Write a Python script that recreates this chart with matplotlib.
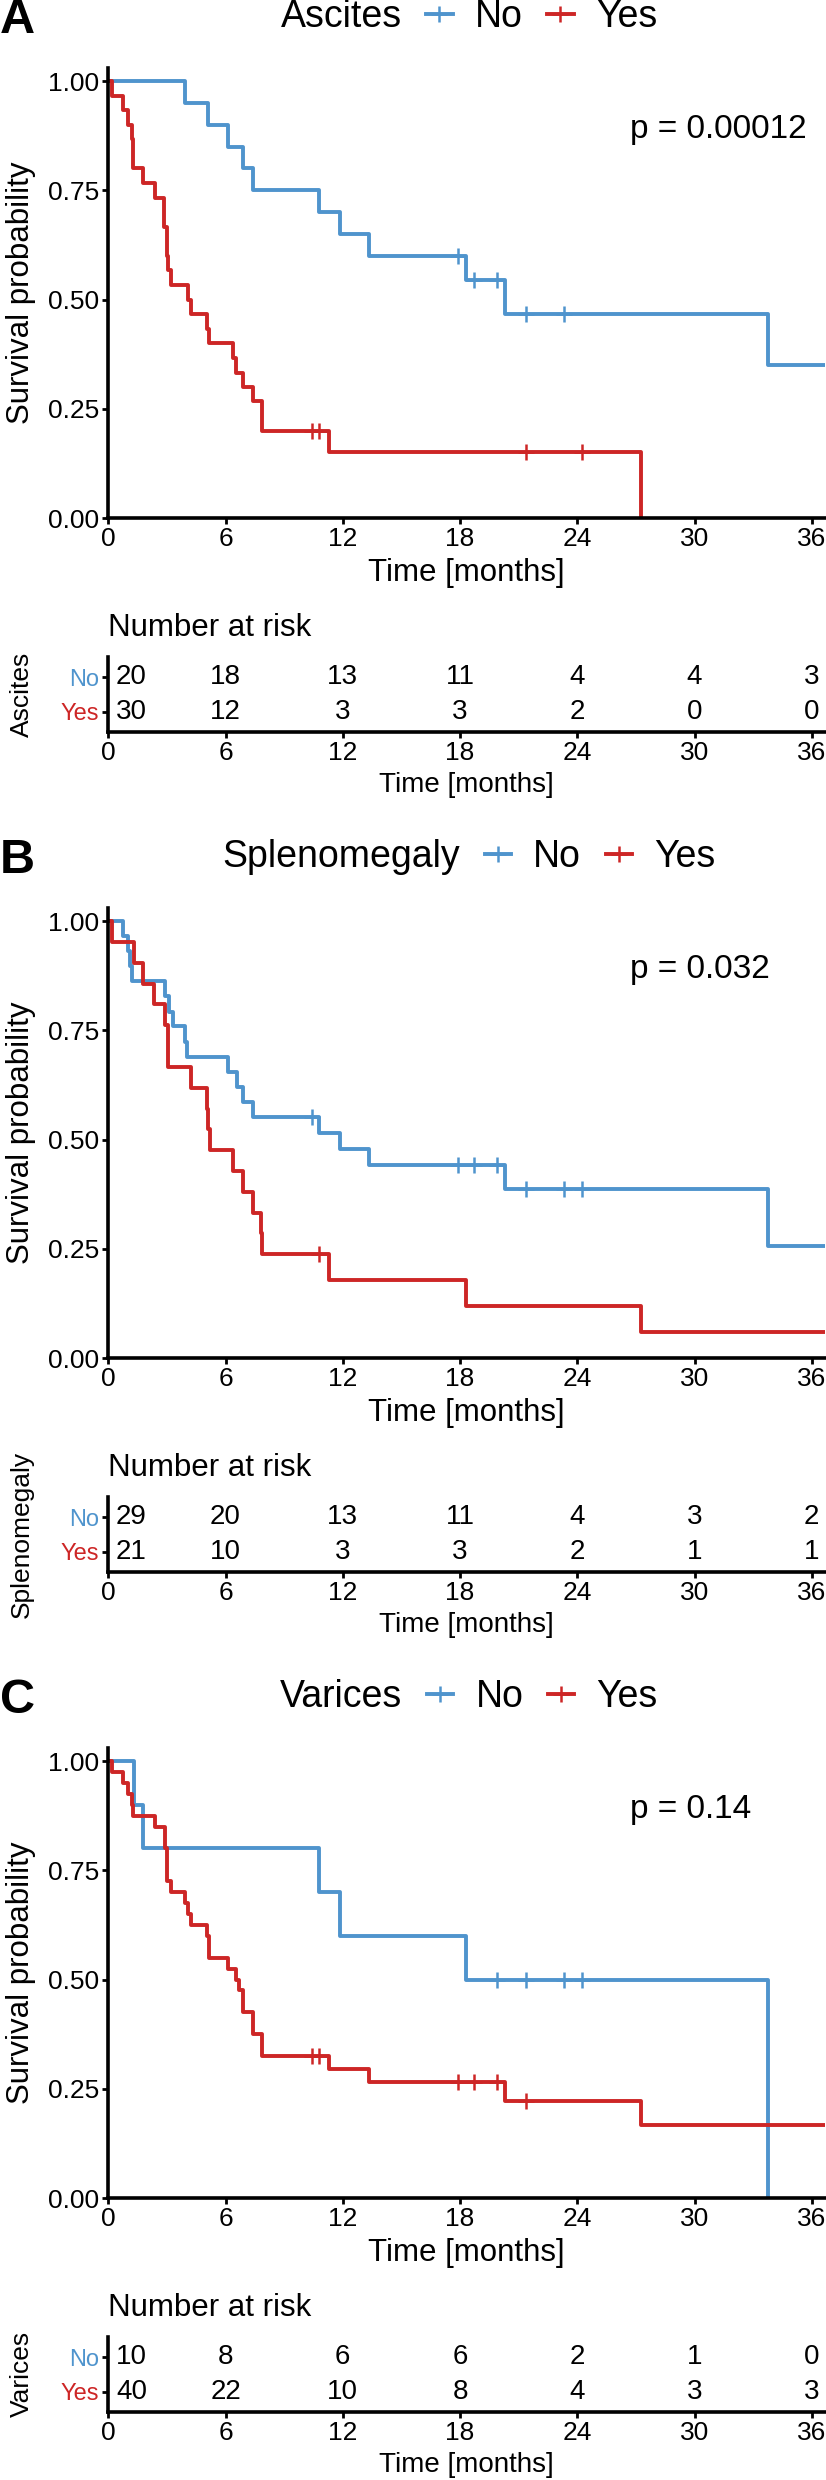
import matplotlib
matplotlib.use("Agg")
import matplotlib.pyplot as plt
from matplotlib.lines import Line2D
import numpy as np

plt.rcParams["font.family"] = ["Liberation Sans", "DejaVu Sans"]

blue = "#4F94CD"
red = "#CD2626"

x_breaks = [0, 6, 12, 18, 24, 30, 36]

# ---- A: Ascites ----
a_no_t = [0, 3.92, 5.12, 6.14, 6.91, 7.42, 10.78, 11.86, 13.36, 18.3, 20.3, 33.75]
a_no_s = [1.0, 0.95, 0.90, 0.85, 0.80, 0.75, 0.70, 0.65, 0.60, 0.545, 0.467, 0.35]
a_no_cens = [17.87, 18.73, 19.87, 21.35, 23.34]
a_no_end = 37.0

a_yes_t = [0, 0.17, 0.73, 1.02, 1.19, 1.28, 1.79, 2.39, 2.85, 2.87, 2.99, 3.01, 3.03,
           3.21, 4.10, 4.22, 5.03, 5.17, 6.40, 6.54, 6.91, 7.42, 7.85, 11.31, 27.28]
a_yes_s = [1.0, 0.967, 0.933, 0.900, 0.867, 0.800, 0.767, 0.733, 0.700, 0.667, 0.633,
           0.600, 0.567, 0.533, 0.500, 0.467, 0.433, 0.400, 0.367, 0.333, 0.300, 0.267,
           0.200, 0.150, 0.0]
a_yes_cens = [10.44, 10.78, 21.35, 24.26]
a_yes_end = 27.28

a_risk_no = [20, 18, 13, 11, 4, 4, 3]
a_risk_yes = [30, 12, 3, 3, 2, 0, 0]

# ---- B: Splenomegaly ----
b_no_t = [0, 0.73, 1.02, 1.12, 1.19, 2.90, 3.11, 3.29, 3.92, 4.04, 6.14, 6.57, 6.91,
          7.42, 10.78, 11.86, 13.36, 20.3, 33.75]
b_no_s = [1.0, 0.966, 0.931, 0.897, 0.862, 0.828, 0.793, 0.759, 0.724, 0.690, 0.655,
          0.621, 0.586, 0.552, 0.515, 0.478, 0.441, 0.386, 0.257]
b_no_cens = [10.44, 17.87, 18.73, 19.87, 21.35, 23.34, 24.26]
b_no_end = 37.0

b_yes_t = [0, 0.17, 1.31, 1.79, 2.35, 2.90, 3.04, 4.22, 5.03, 5.12, 5.20, 6.40, 6.91,
           7.42, 7.80, 7.87, 11.31, 18.33, 27.28]
b_yes_s = [1.0, 0.952, 0.905, 0.857, 0.810, 0.762, 0.667, 0.619, 0.571, 0.524, 0.476,
           0.429, 0.381, 0.333, 0.286, 0.238, 0.179, 0.119, 0.060]
b_yes_cens = [10.8]
b_yes_end = 37.0

b_risk_no = [29, 20, 13, 11, 4, 3, 2]
b_risk_yes = [21, 10, 3, 3, 2, 1, 1]

# ---- C: Varices ----
c_no_t = [0, 1.31, 1.79, 10.78, 11.86, 18.33, 33.75]
c_no_s = [1.0, 0.9, 0.8, 0.7, 0.6, 0.5, 0.0]
c_no_cens = [19.87, 21.35, 23.34, 24.26]
c_no_end = 33.75

c_yes_t = [0, 0.17, 0.73, 1.02, 1.19, 1.28, 2.39, 2.90, 2.99, 3.21, 3.92, 4.10, 4.22,
           5.03, 5.17, 6.14, 6.54, 6.71, 6.91, 7.42, 7.85, 11.31, 13.36, 20.3, 27.28]
c_yes_s = [1.0, 0.975, 0.950, 0.925, 0.900, 0.875, 0.850, 0.800, 0.725, 0.700, 0.675,
           0.650, 0.625, 0.600, 0.550, 0.525, 0.500, 0.475, 0.425, 0.375, 0.325, 0.296,
           0.266, 0.222, 0.166]
c_yes_cens = [10.44, 10.78, 17.87, 18.73, 19.87, 21.35]
c_yes_end = 37.0

c_risk_no = [10, 8, 6, 6, 2, 1, 0]
c_risk_yes = [40, 22, 10, 8, 4, 3, 3]

panels = [
    ("A", "Ascites", "p = 0.00012",
     (a_no_t, a_no_s, a_no_cens, a_no_end), (a_yes_t, a_yes_s, a_yes_cens, a_yes_end),
     a_risk_no, a_risk_yes),
    ("B", "Splenomegaly", "p = 0.032",
     (b_no_t, b_no_s, b_no_cens, b_no_end), (b_yes_t, b_yes_s, b_yes_cens, b_yes_end),
     b_risk_no, b_risk_yes),
    ("C", "Varices", "p = 0.14",
     (c_no_t, c_no_s, c_no_cens, c_no_end), (c_yes_t, c_yes_s, c_yes_cens, c_yes_end),
     c_risk_no, c_risk_yes),
]


W, H = 826, 2480
fig = plt.figure(figsize=(W / 100, H / 100), dpi=100)


def px_rect(x0, y_top, x1, y_bot):
    return [x0 / W, 1 - y_bot / H, (x1 - x0) / W, (y_bot - y_top) / H]


def style_axis(ax):
    for side in ["top", "right"]:
        ax.spines[side].set_visible(False)
    for side in ["left", "bottom"]:
        ax.spines[side].set_linewidth(2.6)
    ax.tick_params(width=2.0, length=4.5, labelsize=19, pad=2)


def draw_curve(ax, curve, color):
    t, s, cens, end = curve
    tt = list(t) + [end]
    ss = list(s) + [s[-1]]
    ax.step(tt, ss, where="post", color=color, lw=2.8)
    idx = np.searchsorted(t, cens, side="right") - 1
    ax.plot(cens, np.array(s)[idx], ls="none", marker="+", ms=11, mew=1.8, color=color)


for k, (letter, var, pval, no_curve, yes_curve, risk_no, risk_yes) in enumerate(panels):
    off = 840 * k

    # survival curves
    ax = fig.add_axes(px_rect(108.3, 68 + off, 824.5, 518 + off))
    draw_curve(ax, no_curve, blue)
    draw_curve(ax, yes_curve, red)
    ax.set_xlim(0, 36.65)
    ax.set_ylim(0, 1.03)
    ax.set_xticks(x_breaks)
    ax.set_yticks([0, 0.25, 0.5, 0.75, 1.0])
    ax.set_yticklabels(["0.00", "0.25", "0.50", "0.75", "1.00"])
    style_axis(ax)
    ax.set_xlabel("Time [months]", fontsize=22.5, labelpad=5)
    ax.text(26.7, 0.89, pval, fontsize=24, ha="left", va="center")

    fig.text(21 / W, 1 - (293 + off) / H, "Survival probability", rotation=90,
             ha="center", va="center", fontsize=22.5)
    fig.text(0.0, 1 - (off - 2) / H, letter, fontsize=35, fontweight="bold",
             ha="left", va="top")

    handles = [
        Line2D([], [], color=blue, lw=2.8, marker="+", ms=11, mew=1.8),
        Line2D([], [], color=red, lw=2.8, marker="+", ms=11, mew=1.8),
    ]
    leg = ax.legend(handles, ["No", "Yes"], title=var, ncol=2, loc="center",
                    bbox_to_anchor=(469 / W, 1 - (17 + off) / H),
                    bbox_transform=fig.transFigure, frameon=False,
                    fontsize=27, title_fontsize=27, handlelength=0.7,
                    handletextpad=0.6, columnspacing=0.65, borderpad=0,
                    numpoints=1)
    # put the legend title on the same row as the keys
    leg._legend_box._children = [leg._legend_handle_box]
    leg._legend_handle_box._children.insert(0, leg._legend_title_box)

    # number at risk table
    axt = fig.add_axes(px_rect(108.3, 657 + off, 824.5, 732 + off))
    axt.set_xlim(0, 36.65)
    axt.set_ylim(0.4, 2.6)
    axt.set_xticks(x_breaks)
    axt.set_yticks([2, 1])
    axt.set_yticklabels(["No", "Yes"])
    style_axis(axt)
    axt.tick_params(axis="y", labelsize=17)
    axt.get_yticklabels()[0].set_color(blue)
    axt.get_yticklabels()[1].set_color(red)
    axt.set_xlabel("Time [months]", fontsize=20, labelpad=5)

    for row, counts in [(2, risk_no), (1, risk_yes)]:
        for t, n in zip(x_breaks, counts):
            if t == 0:
                axt.annotate(str(n), (t, row), xytext=(5.5, 0), textcoords="offset points",
                             ha="left", va="center", fontsize=20)
            else:
                axt.text(t, row, str(n), ha="center", va="center", fontsize=20)

    fig.text(108.3 / W, 1 - (636 + off) / H, "Number at risk", fontsize=22.5,
             ha="left", va="baseline")
    fig.text(22 / W, 1 - (694 + off) / H, var, rotation=90, ha="center",
             va="center", fontsize=19)

fig.savefig("out.png", dpi=100)
